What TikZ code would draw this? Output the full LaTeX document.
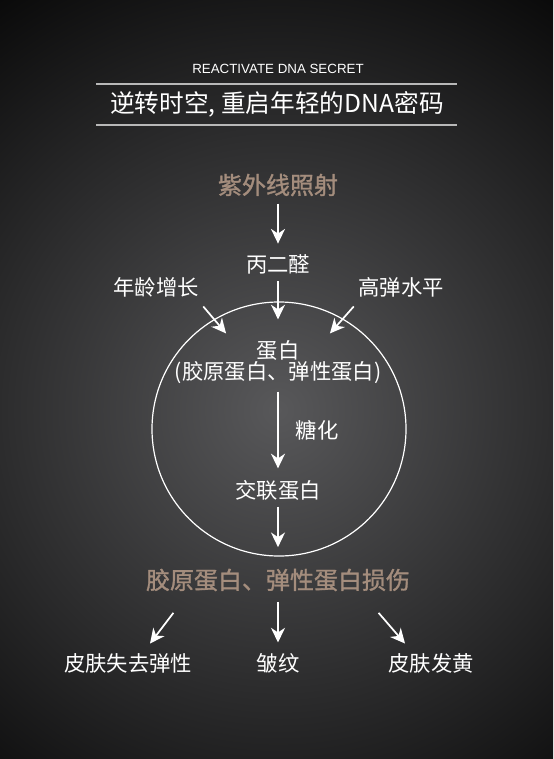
\documentclass[tikz,border=0pt]{standalone}
\usepackage{fontspec}
\setmainfont{Noto Sans CJK SC}
\newfontfamily\latinfont{Liberation Sans}
\newfontfamily\tanfont[FakeBold=1.2]{Noto Sans CJK SC}
\usetikzlibrary{arrows.meta,positioning}
\definecolor{GlowGray}{HTML}{58585A}
\definecolor{TanText}{HTML}{A48D7D}
\definecolor{RuleGray}{HTML}{B8B8B8}
\tikzset{
  TX/.style={text=white,inner sep=1pt,font=\fontsize{16}{19}\selectfont},
  HD/.style={text=TanText,inner sep=1pt,font=\tanfont\fontsize{18}{21}\selectfont},
  EN/.style={text=white,inner sep=1pt,font=\latinfont\fontsize{10}{12}\selectfont},
  arr/.style={-{Stealth[length=11pt,width=10.5pt,inset=3.5pt]},white,line width=1.3pt},
  rule/.style={RuleGray,line width=0.8pt}
}

\begin{document}
\begin{tikzpicture}[x=0.75pt,y=-0.75pt]
  % background with soft glow
  \fill[black] (0,0) rectangle (553,759);
  \begin{scope}
    \clip (0,0) rectangle (553,759);
    \shade[inner color=GlowGray,outer color=black] (278,410) circle (560);
  \end{scope}
  \useasboundingbox (0,0) rectangle (553,759);

  % heading
  \node[EN] (eng) at (278,69) {REACTIVATE DNA SECRET};
  \draw[rule] (96,84) -- (457,84);
  \node[TX,font=\fontsize{18.5}{22}\selectfont] (title) at (277,104) {逆转时空, 重启年轻的DNA密码};
  \draw[rule] (96,125) -- (457,125);

  \node[HD] (uv) at (278,185) {紫外线照射};
  \node[TX] (mda) at (278,264) {丙二醛};
  \node[TX] (age) at (156,287) {年龄增长};
  \node[TX] (elas) at (401,287) {高弹水平};

  \node[draw=white,circle,line width=0.9pt,minimum size=190.5pt] (ring) at (279,429) {};
  \node[TX] (prot) at (278,350) {蛋白};
  \node[TX] (protsub) at (278,373) {(胶原蛋白、弹性蛋白)};
  \node[TX] (gly) at (317,430) {糖化};
  \node[TX] (xl) at (278,490) {交联蛋白};

  \node[HD] (dmg) at (278,580) {胶原蛋白、弹性蛋白损伤};
  \node[TX] (loss) at (128,663) {皮肤失去弹性};
  \node[TX] (wrk) at (278,663) {皱纹};
  \node[TX] (yel) at (431,663) {皮肤发黄};

  \draw[arr] ([shift={(0,6)}]uv.south) -- ([shift={(0,-9)}]mda.north);
  \draw[arr] ([shift={(0,6)}]mda.south) -- ([shift={(0,-19)}]prot.north);
  \draw[arr] ([shift={(3,8)}]age.south east) -- ([shift={(-29,-5)}]prot.north west);
  \draw[arr] ([shift={(-3,8)}]elas.south west) -- ([shift={(29,-5)}]prot.north east);
  \draw[arr] ([shift={(0,6)}]protsub.south) -- ([shift={(0,-10)}]xl.north);
  \draw[arr] ([shift={(0,5)}]xl.south) -- ([shift={(0,-20)}]dmg.north);
  \draw[arr] ([shift={(29,20)}]dmg.south west) -- ([shift={(22,-8)}]loss.north);
  \draw[arr] ([shift={(0,9)}]dmg.south) -- ([shift={(0,-9)}]wrk.north);
  \draw[arr] ([shift={(-33,20)}]dmg.south east) -- ([shift={(-26,-8)}]yel.north);
\end{tikzpicture}
\end{document}
